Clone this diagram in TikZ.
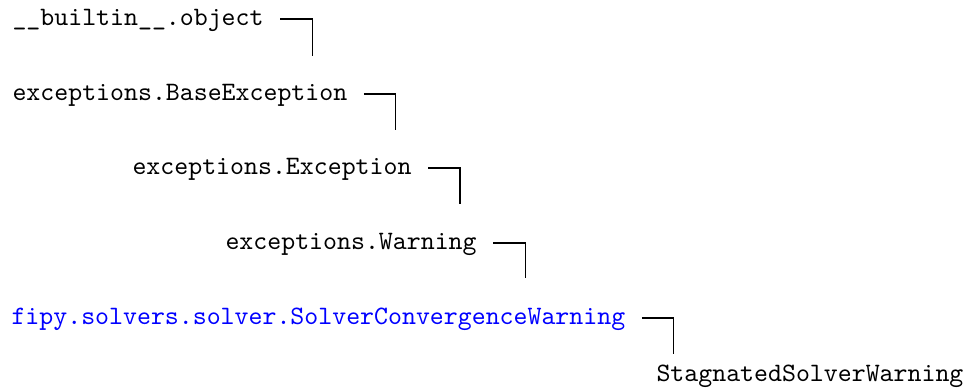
\documentclass[tikz,border=0pt]{standalone}
\usepackage{fontspec}
\setmonofont{Latin Modern Mono}
\tikzset{
  cls/.style={anchor=base west, inner sep=0pt, font=\ttfamily\fontsize{10pt}{12pt}\selectfont},
  link/.style={cls, text=blue},
  conn/.style={draw=black, line width=0.45pt}
}
\begin{document}
\begin{tikzpicture}[x=0.3764pt, y=-0.3764pt]
\useasboundingbox (0,0) rectangle (967,388);
\node[cls]  (obj)  at (12,25)   {\_\_builtin\_\_.object};
\node[cls]  (base) at (12,100)  {exceptions.BaseException};
\node[cls]  (exc)  at (132,174) {exceptions.Exception};
\node[cls]  (warn) at (225,249) {exceptions.Warning};
\node[link] (conv) at (11,324)  {fipy.solvers.solver.SolverConvergenceWarning};
\node[cls]  (stag) at (656,381) {StagnatedSolverWarning};
\draw[conn] ([shift={(16,-6)}]obj.base east)  -- ++(32,0) -- ++(0,37);
\draw[conn] ([shift={(16,-6)}]base.base east) -- ++(32,0) -- ++(0,36);
\draw[conn] ([shift={(16,-6)}]exc.base east)  -- ++(32,0) -- ++(0,36);
\draw[conn] ([shift={(16,-6)}]warn.base east) -- ++(32,0) -- ++(0,35);
\draw[conn] ([shift={(16,-6)}]conv.base east) -- ++(32,0) -- ++(0,36);
\end{tikzpicture}
\end{document}
